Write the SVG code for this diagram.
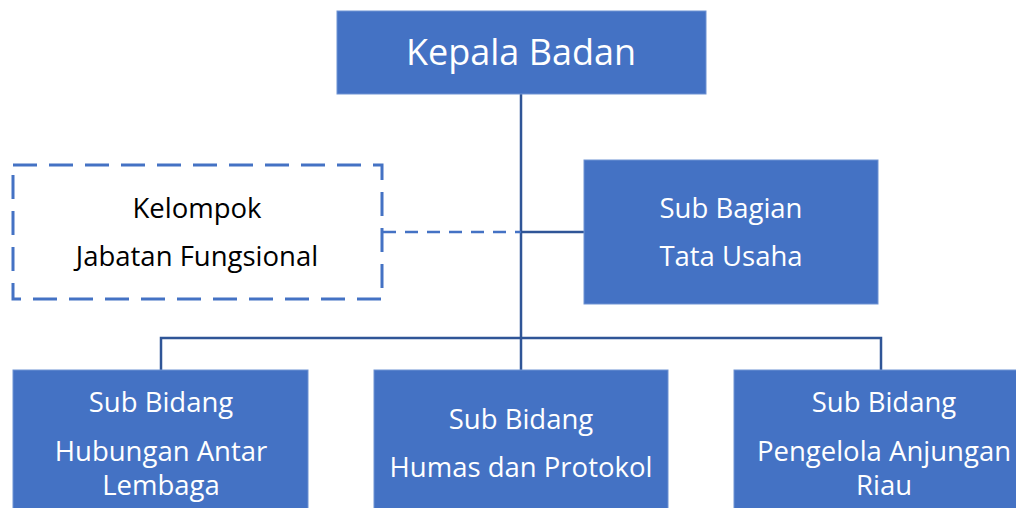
<svg xmlns="http://www.w3.org/2000/svg" width="1016" height="508" viewBox="0 0 1016 508">
<style>
.box{fill:#4472C4;stroke:#6F93D3;stroke-width:1}
.dbox{fill:#FFFFFF;stroke:#4472C4;stroke-width:3;stroke-dasharray:24 12}
.ln{stroke:#2F5597;stroke-width:2.5;fill:none}
.dln{stroke:#4472C4;stroke-width:2.5;stroke-dasharray:13 9;fill:none}
.t{font-family:"Open Sans","Noto Sans","Liberation Sans",sans-serif;fill:#FFFFFF;text-anchor:middle}
.tk{fill:#000000}
.big{font-size:36px}
.md{font-size:27.5px}
</style>
<rect x="0" y="0" width="1016" height="508" fill="#FFFFFF"/>
<g id="connectors">
<line class="ln" x1="521" y1="94" x2="521" y2="370"/>
<line class="ln" x1="521" y1="232" x2="584" y2="232"/>
<line class="dln" x1="383" y1="232" x2="521" y2="232"/>
<polyline class="ln" points="161,370 161,338 881,338 881,370"/>
</g>
<g id="kepala-badan">
<rect class="box" x="337" y="11" width="369" height="83"/>
<text class="t big" x="521" y="65">Kepala Badan</text>
</g>
<g id="kelompok-jabatan-fungsional">
<rect class="dbox" x="13" y="165" width="369" height="134"/>
<text class="t md tk" x="197" y="218">Kelompok</text>
<text class="t md tk" x="197" y="266">Jabatan Fungsional</text>
</g>
<g id="sub-bagian-tata-usaha">
<rect class="box" x="584" y="160" width="294" height="144"/>
<text class="t md" x="731" y="218">Sub Bagian</text>
<text class="t md" x="731" y="266">Tata Usaha</text>
</g>
<g id="sub-bidang-hubungan">
<rect class="box" x="13" y="370" width="295" height="145"/>
<text class="t md" x="161" y="412">Sub Bidang</text>
<text class="t md" x="161" y="461">Hubungan Antar</text>
<text class="t md" x="161" y="495">Lembaga</text>
</g>
<g id="sub-bidang-humas">
<rect class="box" x="374" y="370" width="294" height="145"/>
<text class="t md" x="521" y="429">Sub Bidang</text>
<text class="t md" x="521" y="477">Humas dan Protokol</text>
</g>
<g id="sub-bidang-pengelola">
<rect class="box" x="734" y="370" width="296" height="145"/>
<text class="t md" x="884" y="412">Sub Bidang</text>
<text class="t md" x="884" y="461">Pengelola Anjungan</text>
<text class="t md" x="884" y="495">Riau</text>
</g>
</svg>
